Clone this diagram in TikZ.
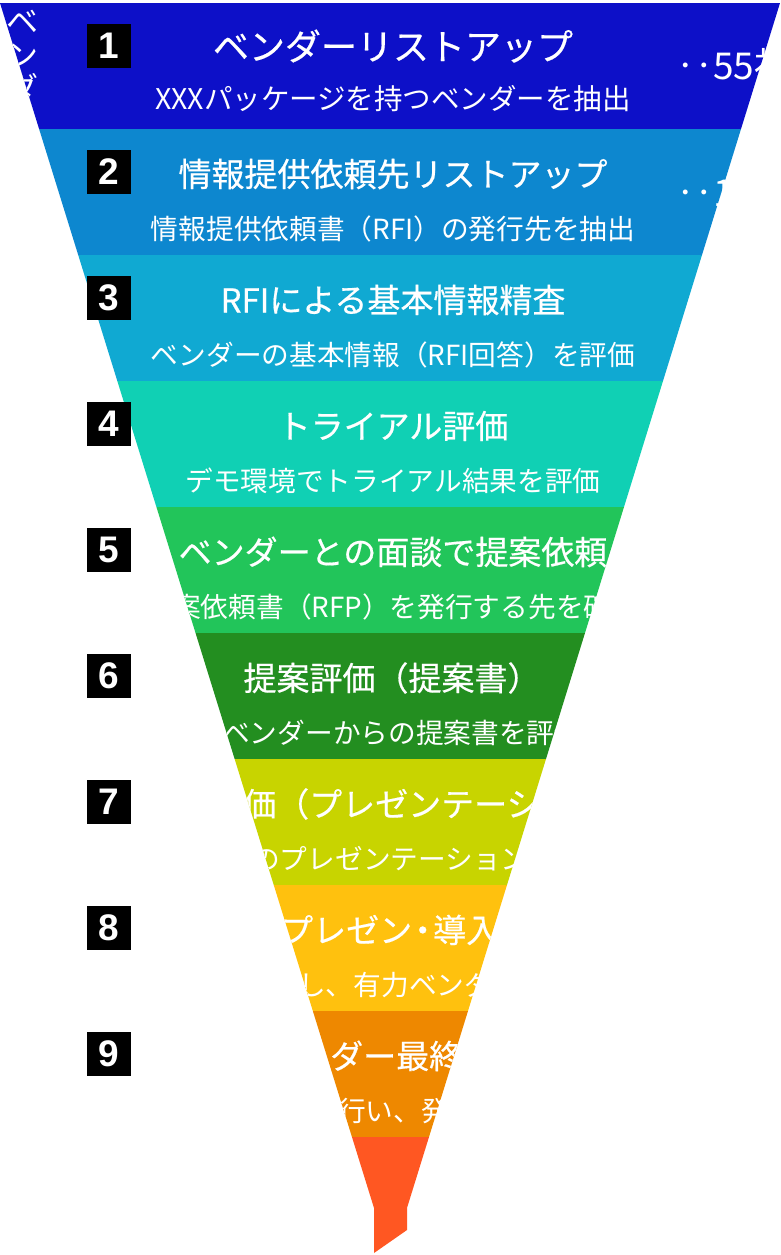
\documentclass[tikz,border=0pt]{standalone}
\usepackage{fontspec}
\setmainfont{Noto Sans CJK JP}
\newfontfamily\titlefont[FakeBold=0.5]{Noto Sans CJK JP}
\newfontfamily\numfont{Liberation Sans}
\usetikzlibrary{positioning}
\definecolor{band1}{RGB}{13,16,200}
\definecolor{band2}{RGB}{13,135,207}
\definecolor{band3}{RGB}{16,169,210}
\definecolor{band4}{RGB}{16,208,180}
\definecolor{band5}{RGB}{34,197,90}
\definecolor{band6}{RGB}{35,142,32}
\definecolor{band7}{RGB}{200,212,0}
\definecolor{band8}{RGB}{255,193,14}
\definecolor{band9}{RGB}{238,136,0}
\definecolor{band10}{RGB}{255,87,34}

\begin{document}
\begin{tikzpicture}[x=1pt,y=-1pt,
    numbox/.style={fill=black,text=white,minimum size=44pt,inner sep=0pt,
        font=\numfont\bfseries\fontsize{37}{37}\selectfont},
    bandtitle/.style={text=white,inner sep=0pt,anchor=base,
        font=\titlefont\fontsize{33}{33}\selectfont},
    bandnote/.style={text=white,inner sep=0pt,anchor=base,
        font=\fontsize{27.7}{28}\selectfont},
    sidenote/.style={text=white,inner sep=0pt,anchor=base west,
        font=\fontsize{37}{37}\selectfont}]
    % Page and white background
    \fill[white] (0,0) rectangle (780,1255);
    \useasboundingbox (0,0) rectangle (780,1255);

    \begin{scope}
        % Funnel outline
        \clip (0,3) -- (780,3) -- (407,1208) -- (407,1230) -- (374,1253)
            -- (374,1208) -- cycle;

        % Draw funnel bands
        \foreach \i in {1,...,10} {
            \fill[band\i] (0,{126*\i-123}) rectangle (780,{126*\i+3});
        }

        % Vertical label at the top left
        \foreach \ch [count=\k] in {ベ,ン,ダ} {
            \node[bandnote,font=\fontsize{32}{32}\selectfont] (side\k) at (22,{33*\k+1}) {\ch};
        }

        % Step 1
        \node[bandtitle,font=\titlefont\fontsize{36}{36}\selectfont] (title1) at (393,60) {ベンダーリストアップ};
        \node[bandnote,font=\fontsize{28.5}{29}\selectfont] (note1) at (393,109) {XXXパッケージを持つベンダーを抽出};
        \node[sidenote] (count1) at (676,80) {‥55社};
        \node[sidenote] (count2) at (676,206) {‥1};

        % Steps 2 to 4
        \foreach \i/\t/\s in {2/情報提供依頼先リストアップ/情報提供依頼書（RFI）の発行先を抽出,
                3/RFIによる基本情報精査/ベンダーの基本情報（RFI回答）を評価,
                4/トライアル評価/デモ環境でトライアル結果を評価} {
            \node[bandtitle] (title\i) at (393,{126*\i-65.5}) {\t};
            \node[bandnote] (note\i) at (393,{126*\i-12.5}) {\s};
        }

        % Steps 5 to 9 (cut by the funnel)
        \node[bandtitle] (title5) at (393,564.5) {ベンダーとの面談で提案依頼};
        \node[bandnote,anchor=base west] (note5) at (173,617.5) {案依頼書（RFP）を発行する先を確};
        \node[bandtitle] (title6) at (392,690.5) {提案評価（提案書）};
        \node[bandnote,anchor=base west] (note6) at (222,743.5) {ベンダーからの提案書を評価};
        \node[bandtitle,anchor=base west] (title7) at (243,816.5) {価（プレゼンテーシ};
        \node[bandnote,anchor=base west] (note7) at (252,869.5) {のプレゼンテーション};
        \node[bandtitle,anchor=base west] (title8) at (280,942.5) {プレゼン\kern-6pt・\kern-6pt導入};
        \node[bandnote,anchor=base west] (note8) at (298,995.5) {し、有力ベンダ};
        \node[bandtitle,anchor=base west] (title9) at (330,1068.5) {ダー最終};
        \node[bandnote,anchor=base west] (note9) at (338,1121.5) {行い、発};
    \end{scope}

    % Step numbers
    \foreach \i in {1,...,9} {
        \node[numbox] (box\i) at (109,{126*\i-80}) {\i};
    }
\end{tikzpicture}
\end{document}
